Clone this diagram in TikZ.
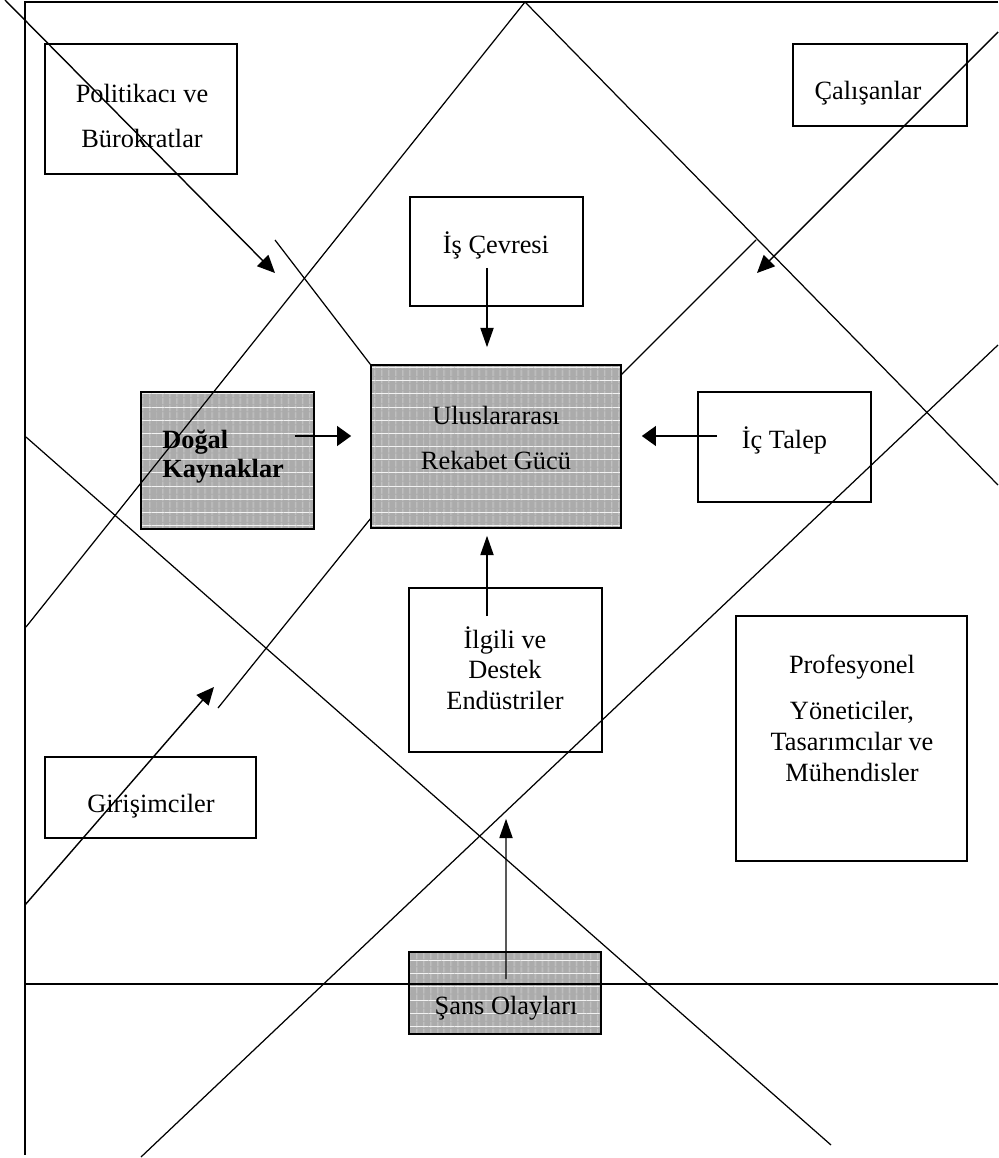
\documentclass[tikz,border=0pt]{standalone}
\usepackage{fontspec}
\setmainfont{Liberation Serif}
\usetikzlibrary{arrows.meta,calc,patterns.meta}

\begin{document}
\begin{tikzpicture}[x=0.02cm,y=-0.02cm,
  box/.style={draw,line width=0.9pt,inner sep=0pt},
  shaded box/.style={box,preaction={fill=gray!66},
    preaction={pattern={Lines[angle=90,distance=4pt,line width=0.25pt]},pattern color=white!85!gray},
    preaction={pattern={Lines[distance=7.5pt,line width=0.35pt]},pattern color=white!90!gray}},
  txt/.style={font=\fontsize{15}{17}\selectfont,align=center,inner sep=0pt},
  thin line/.style={line width=0.7pt},
  arr/.style={line width=0.8pt,-{Triangle[length=11pt,width=7.5pt]}},
  fat arr/.style={line width=1.7pt,-{Triangle[length=8pt,width=11pt]}},
  diag arr/.style={line width=0.8pt,-{Triangle[length=10pt,width=9pt]}}]

  \useasboundingbox (0,0) rectangle (998,1158);

  % boxes
  \node[box,minimum width=3.84cm,minimum height=2.6cm] (pol) at (141,109) {};
  \node[box,minimum width=3.48cm,minimum height=1.64cm] (cal) at (880,85) {};
  \node[box,minimum width=3.46cm,minimum height=2.18cm] (isc) at (496.5,251.5) {};
  \node[shaded box,minimum width=3.46cm,minimum height=2.74cm] (dog) at (227.5,460.5) {};
  \node[shaded box,minimum width=5cm,minimum height=3.26cm] (rek) at (496,446.5) {};
  \node[box,minimum width=3.46cm,minimum height=2.2cm] (ict) at (784.5,447) {};
  \node[box,minimum width=3.86cm,minimum height=3.28cm] (ilg) at (505.5,670) {};
  \node[box,minimum width=4.62cm,minimum height=4.9cm] (pro) at (851.5,738.5) {};
  \node[box,minimum width=4.22cm,minimum height=1.62cm] (gir) at (150.5,797.5) {};
  \node[shaded box,minimum width=3.84cm,minimum height=1.64cm] (san) at (505,993) {};

  % frame
  \draw[line width=0.9pt] (998,2) -- (25,2) -- (25,1155);
  \draw[line width=0.9pt] (25,984) -- (998,984);

  % diagonals
  \draw[thin line] (26,627) -- (525,2) -- (998,485);
  \draw[thin line] (998,345) -- (141,1157);
  \draw[thin line] (26,437) -- (831,1145);
  \draw[thin line] (275,240) -- (rek.north west);
  \draw[thin line] (756,240) -- (621,375);
  \draw[thin line] (371,518) -- (218,708);
  \draw[diag arr] (5,0) -- (275,273);
  \draw[diag arr] (998,32) -- (757,273);
  \draw[diag arr] (25,905) -- (214,687);

  % texts
  \node[txt] (pol-t) at (142,116) {Politikacı ve\\[8.5pt]Bürokratlar};
  \node[txt] (cal-t) at (868,93) {Çalışanlar};
  \node[txt] (isc-t) at (496,245) {İş Çevresi};
  \node[txt] (rek-t) at (496,438) {Uluslararası\\[8.5pt]Rekabet Gücü};
  \node[txt,anchor=west,align=left,font=\fontsize{15}{16.5}\selectfont\bfseries] (dog-t) at (162,457) {Doğal\\Kaynaklar};
  \node[txt] (ict-t) at (784.5,440) {İç Talep};
  \node[txt,font=\fontsize{15}{17.3}\selectfont] (ilg-t) at (505,668) {İlgili ve\\Destek\\Endüstriler};
  \node[txt,font=\fontsize{15}{17.5}\selectfont] (pro-t) at (852,718) {Profesyonel\\[9pt]Yöneticiler,\\Tasarımcılar ve\\Mühendisler};
  \node[txt] (gir-t) at (151,806) {Girişimciler};
  \node[txt] (san-t) at (506,1008) {Şans Olayları};

  % arrows
  \draw[arr] ($(isc.south)+(-9.5,-39)$) -- ($(rek.north)+(-9,-17)$);
  \draw[fat arr] ($(dog.east)+(-20,-24.5)$) -- ($(rek.west)+(-19,-10.5)$);
  \draw[fat arr] ($(ict.west)+(20,-11)$) -- ($(rek.east)+(20,-10.5)$);
  \draw[arr] ($(ilg.north)+(-18.5,29)$) -- ($(rek.south)+(-9,7)$);
  \draw[arr] ($(san.north)+(1,28)$) -- ($(ilg.south)+(0.5,66)$);
\end{tikzpicture}
\end{document}
